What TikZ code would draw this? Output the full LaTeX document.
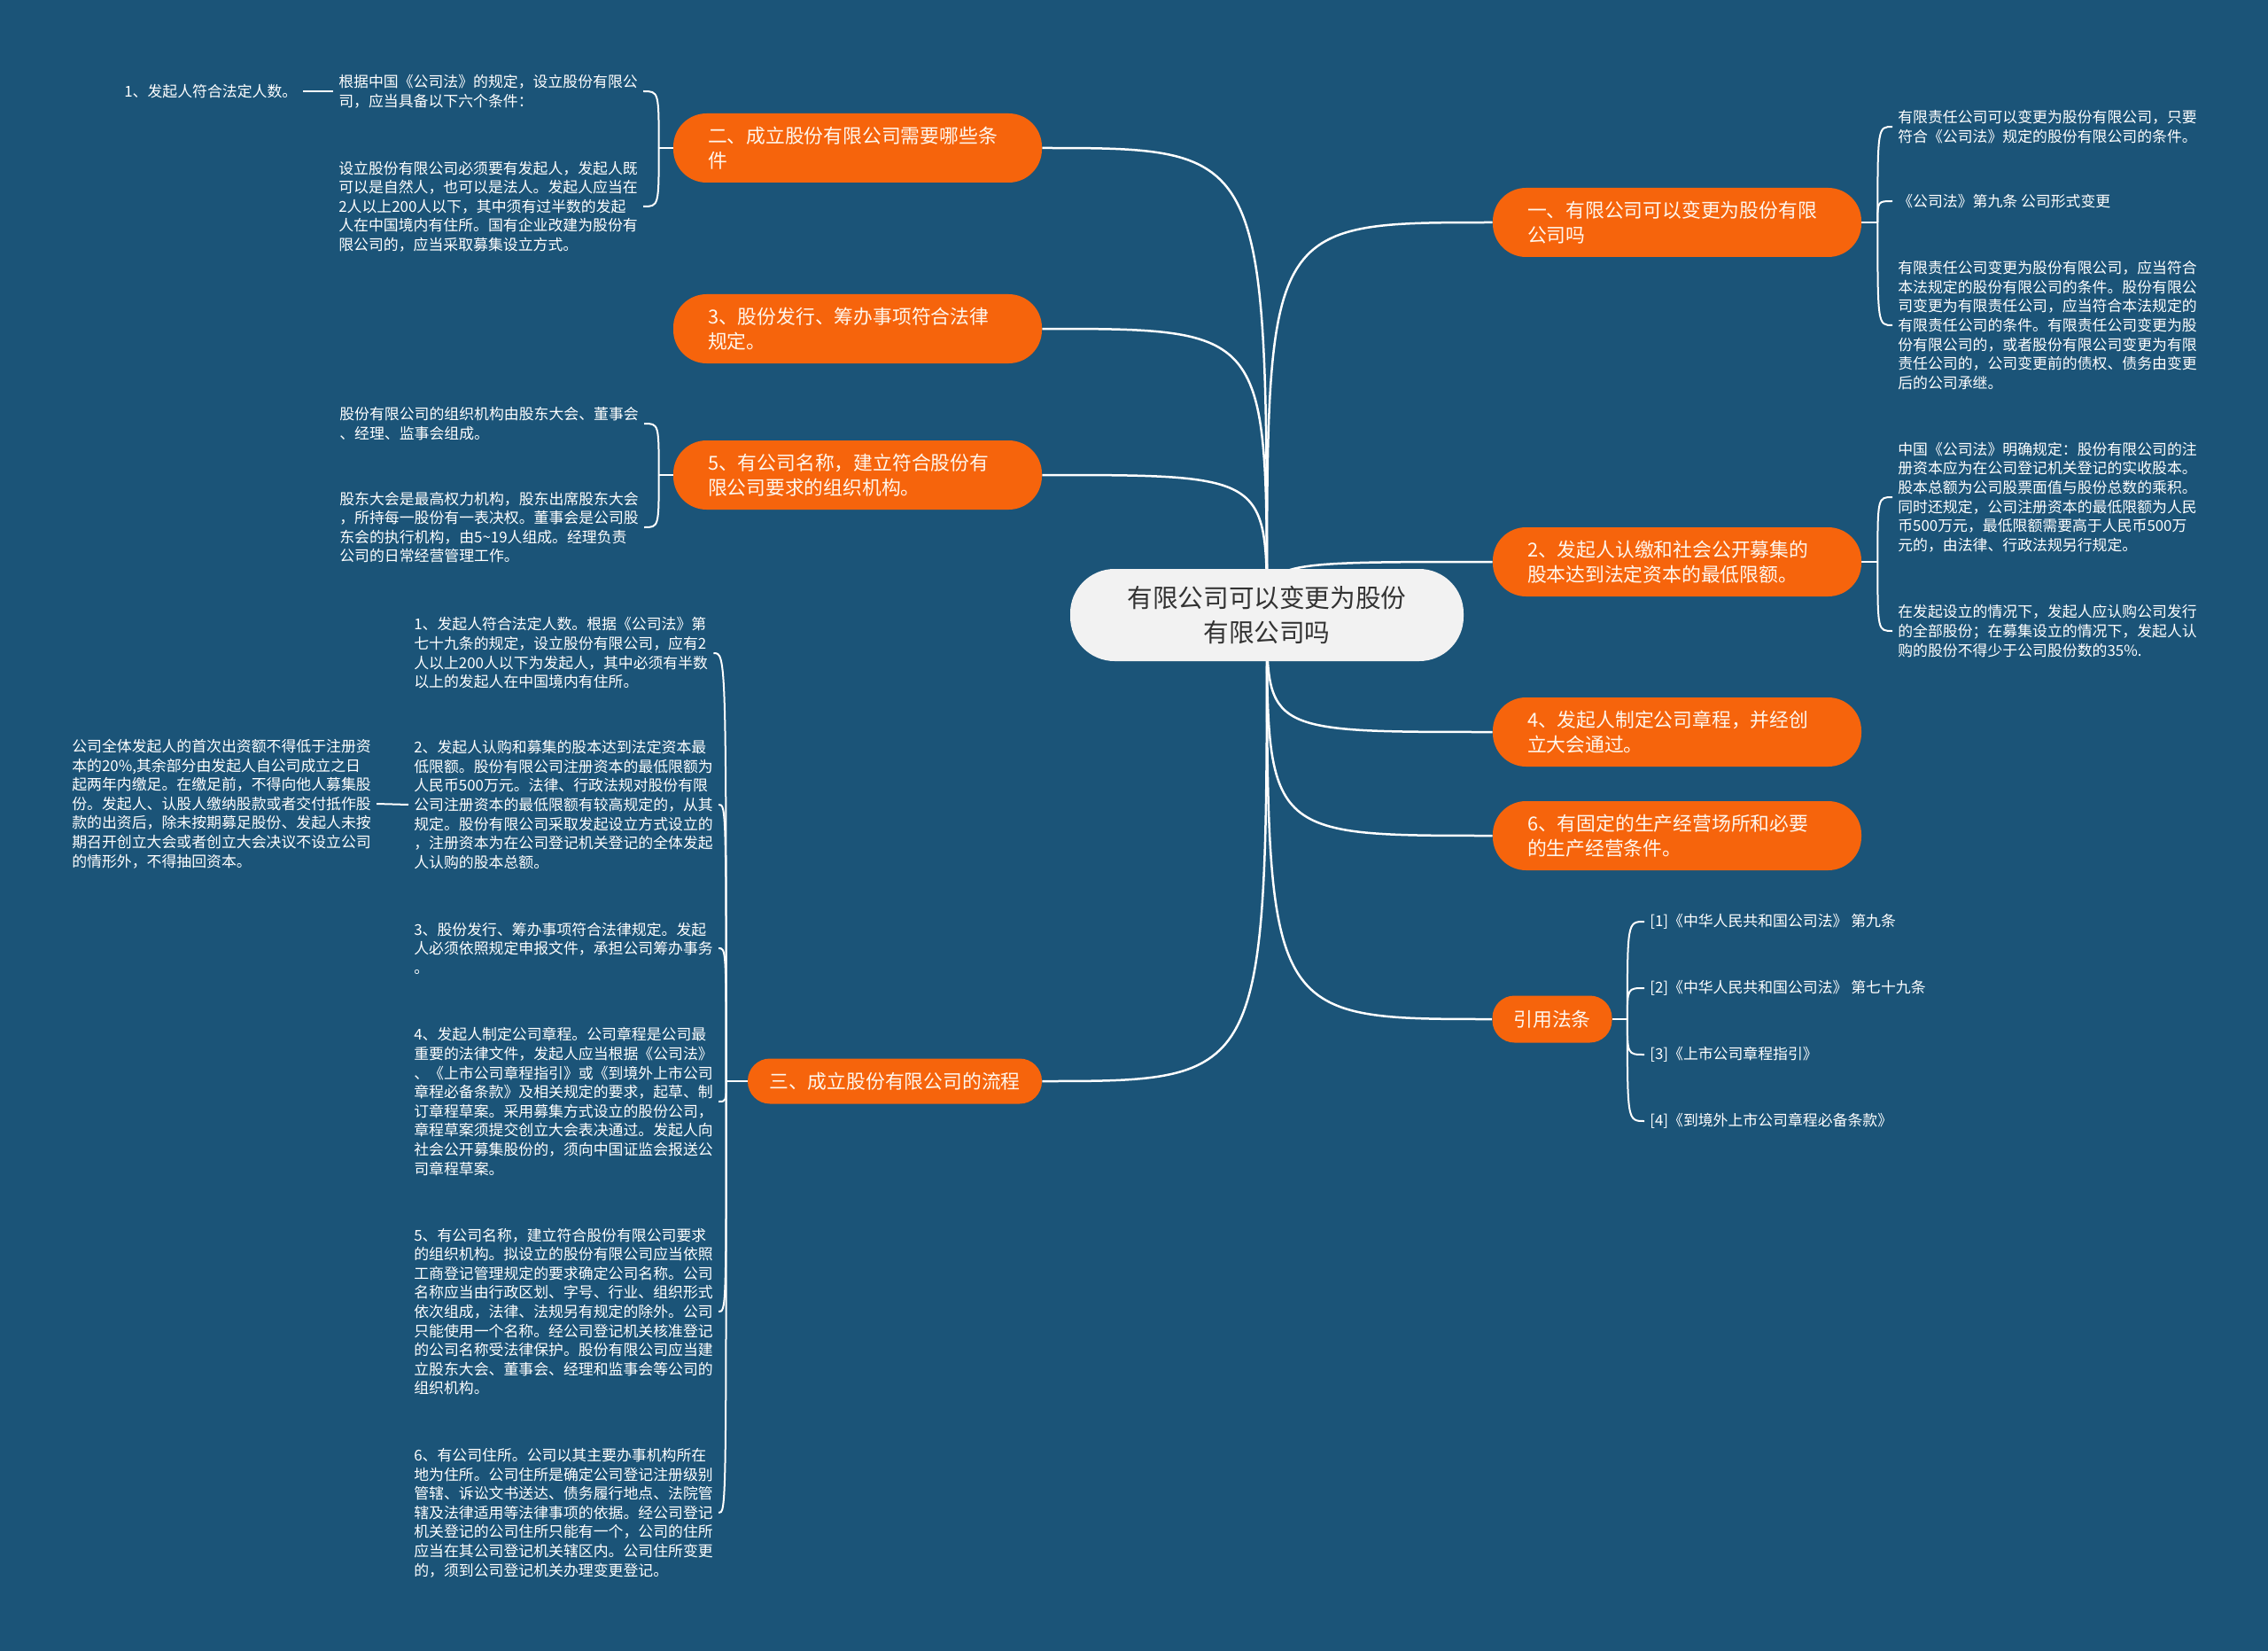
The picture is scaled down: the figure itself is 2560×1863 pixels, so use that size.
\documentclass[tikz,border=0pt]{standalone}
\usepackage{fontspec}
\setmainfont{Noto Sans CJK SC}
\usepackage{tikz}
\definecolor{bgblue}{HTML}{1B5478}
\definecolor{topicorange}{HTML}{F6640C}
\definecolor{topicink}{HTML}{FFF6EC}
\definecolor{rootfill}{HTML}{F2F2F2}
\definecolor{rootink}{HTML}{333333}
\pgfdeclarelayer{bg}
\pgfdeclarelayer{edges}
\pgfsetlayers{bg,edges,main}
\tikzset{
  root/.style={fill=rootfill,text=rootink,rounded corners=10mm,minimum width=88.8mm,minimum height=20.8mm,align=center,font=\fontsize{16.3pt}{22pt}\selectfont},
  topic/.style={fill=topicorange,text=topicink,rounded corners=7.5mm,text width=67.6mm,inner xsep=7.8mm,minimum height=15.6mm,align=left,font=\fontsize{12.4pt}{15.9pt}\selectfont},
  shorttopic/.style={fill=topicorange,text=topicink,rounded corners=5mm,inner xsep=0pt,align=center,font=\fontsize{12.4pt}{15.9pt}\selectfont},
  leaf/.style={text=white,anchor=west,align=left,inner xsep=1.2mm,inner ysep=0.4mm,font=\fontsize{9.6pt}{12.3pt}\selectfont},
  link/.style={draw=white,line width=0.5mm},
  brace/.style={draw=white,line width=0.4mm}
}

\begin{document}
\begin{tikzpicture}[x=0.2mm,y=-0.2mm]
  \begin{pgfonlayer}{bg}
    \fill[bgblue] (0,0) rectangle (2560,1863);
  \end{pgfonlayer}
  \useasboundingbox (0,0) rectangle (2560,1863);

  \node[root] (root) at (1430,694) {有限公司可以变更为股份\\有限公司吗};

  \node[topic] (r1) at (1893,251) {一、有限公司可以变更为股份有限\\公司吗};
  \node[topic] (r2) at (1893,634) {2、发起人认缴和社会公开募集的\\股本达到法定资本的最低限额。};
  \node[topic] (r3) at (1893,826) {4、发起人制定公司章程，并经创\\立大会通过。};
  \node[topic] (r4) at (1893,943) {6、有固定的生产经营场所和必要\\的生产经营条件。};
  \node[shorttopic,minimum width=27mm,minimum height=10.6mm] (r5) at (1752,1150) {引用法条};

  \node[topic] (l1) at (968,167) {二、成立股份有限公司需要哪些条\\件};
  \node[topic] (l2) at (968,371) {3、股份发行、筹办事项符合法律\\规定。};
  \node[topic] (l3) at (968,536) {5、有公司名称，建立符合股份有\\限公司要求的组织机构。};
  \node[shorttopic,minimum width=66.4mm,minimum height=10.2mm] (l4) at (1010,1220) {三、成立股份有限公司的流程};

  \node[leaf] (d1) at (2136,143) {有限责任公司可以变更为股份有限公司，只要\\符合《公司法》规定的股份有限公司的条件。};
  \node[leaf] (d2) at (2136,227) {《公司法》第九条 公司形式变更};
  \node[leaf] (d3) at (2136,367) {有限责任公司变更为股份有限公司，应当符合\\本法规定的股份有限公司的条件。股份有限公\\司变更为有限责任公司，应当符合本法规定的\\有限责任公司的条件。有限责任公司变更为股\\份有限公司的，或者股份有限公司变更为有限\\责任公司的，公司变更前的债权、债务由变更\\后的公司承继。};

  \node[leaf] (e1) at (2136,561) {中国《公司法》明确规定：股份有限公司的注\\册资本应为在公司登记机关登记的实收股本。\\股本总额为公司股票面值与股份总数的乘积。\\同时还规定，公司注册资本的最低限额为人民\\币500万元，最低限额需要高于人民币500万\\元的，由法律、行政法规另行规定。};
  \node[leaf] (e2) at (2136,712) {在发起设立的情况下，发起人应认购公司发行\\的全部股份；在募集设立的情况下，发起人认\\购的股份不得少于公司股份数的35\%.};

  \node[leaf] (f1) at (1856,1040) {[1]《中华人民共和国公司法》 第九条};
  \node[leaf] (f2) at (1856,1115) {[2]《中华人民共和国公司法》 第七十九条};
  \node[leaf] (f3) at (1856,1190) {[3]《上市公司章程指引》};
  \node[leaf] (f4) at (1856,1265) {[4]《到境外上市公司章程必备条款》};

  \node[leaf] (a1) at (376,103) {根据中国《公司法》的规定，设立股份有限公\\司，应当具备以下六个条件：};
  \node[leaf] (a1g) at (134,103) {1、发起人符合法定人数。};
  \node[leaf] (a2) at (376,233) {设立股份有限公司必须要有发起人，发起人既\\可以是自然人，也可以是法人。发起人应当在\\2人以上200人以下，其中须有过半数的发起\\人在中国境内有住所。国有企业改建为股份有\\限公司的，应当采取募集设立方式。};

  \node[leaf] (b1) at (377,478) {股份有限公司的组织机构由股东大会、董事会\\、经理、监事会组成。};
  \node[leaf] (b2) at (377,595) {股东大会是最高权力机构，股东出席股东大会\\，所持每一股份有一表决权。董事会是公司股\\东会的执行机构，由5\textasciitilde 19人组成。经理负责\\公司的日常经营管理工作。};

  \node[leaf] (c1) at (461,737) {1、发起人符合法定人数。根据《公司法》第\\七十九条的规定，设立股份有限公司，应有2\\人以上200人以下为发起人，其中必须有半数\\以上的发起人在中国境内有住所。};
  \node[leaf] (c2) at (461,908) {2、发起人认购和募集的股本达到法定资本最\\低限额。股份有限公司注册资本的最低限额为\\人民币500万元。法律、行政法规对股份有限\\公司注册资本的最低限额有较高规定的，从其\\规定。股份有限公司采取发起设立方式设立的\\，注册资本为在公司登记机关登记的全体发起\\人认购的股本总额。};
  \node[leaf] (c2g) at (75,907) {公司全体发起人的首次出资额不得低于注册资\\本的20\%,其余部分由发起人自公司成立之日\\起两年内缴足。在缴足前，不得向他人募集股\\份。发起人、认股人缴纳股款或者交付抵作股\\款的出资后，除未按期募足股份、发起人未按\\期召开创立大会或者创立大会决议不设立公司\\的情形外，不得抽回资本。};
  \node[leaf] (c3) at (461,1070) {3、股份发行、筹办事项符合法律规定。发起\\人必须依照规定申报文件，承担公司筹办事务\\。};
  \node[leaf] (c4) at (461,1243) {4、发起人制定公司章程。公司章程是公司最\\重要的法律文件，发起人应当根据《公司法》\\、《上市公司章程指引》或《到境外上市公司\\章程必备条款》及相关规定的要求，起草、制\\订章程草案。采用募集方式设立的股份公司，\\章程草案须提交创立大会表决通过。发起人向\\社会公开募集股份的，须向中国证监会报送公\\司章程草案。};
  \node[leaf] (c5) at (461,1480) {5、有公司名称，建立符合股份有限公司要求\\的组织机构。拟设立的股份有限公司应当依照\\工商登记管理规定的要求确定公司名称。公司\\名称应当由行政区划、字号、行业、组织形式\\依次组成，法律、法规另有规定的除外。公司\\只能使用一个名称。经公司登记机关核准登记\\的公司名称受法律保护。股份有限公司应当建\\立股东大会、董事会、经理和监事会等公司的\\组织机构。};
  \node[leaf] (c6) at (461,1707) {6、有公司住所。公司以其主要办事机构所在\\地为住所。公司住所是确定公司登记注册级别\\管辖、诉讼文书送达、债务履行地点、法院管\\辖及法律适用等法律事项的依据。经公司登记\\机关登记的公司住所只能有一个，公司的住所\\应当在其公司登记机关辖区内。公司住所变更\\的，须到公司登记机关办理变更登记。};

  \coordinate (r1j) at ([xshift=3.6mm]r1.east);
  \coordinate (r2j) at ([xshift=3.6mm]r2.east);
  \coordinate (r5j) at ([xshift=3.4mm]r5.east);
  \coordinate (l1j) at ([xshift=-3.2mm]l1.west);
  \coordinate (l3j) at ([xshift=-3.2mm]l3.west);
  \coordinate (l4j) at ([xshift=-4.8mm]l4.west);

  \begin{pgfonlayer}{edges}
    \foreach \t in {r1,r2,r3,r4,r5}
      \draw[link] (root.center) .. controls (root.center |- \t.west) .. (\t.west);
    \foreach \t in {l1,l2,l3,l4}
      \draw[link] (root.center) .. controls (root.center |- \t.east) .. (\t.east);

    \draw[brace] (r1.east) -- (r1j);
    \foreach \c in {d1,d2,d3}
      \draw[brace] (r1j) .. controls (r1j |- \c.west) .. (\c.west);
    \draw[brace] (r2.east) -- (r2j);
    \foreach \c in {e1,e2}
      \draw[brace] (r2j) .. controls (r2j |- \c.west) .. (\c.west);
    \draw[brace] (r5.east) -- (r5j);
    \foreach \c in {f1,f2,f3,f4}
      \draw[brace] (r5j) .. controls (r5j |- \c.west) .. (\c.west);

    \draw[brace] (l1.west) -- (l1j);
    \foreach \c in {a1,a2}
      \draw[brace] (l1j) .. controls (l1j |- \c.east) .. (\c.east);
    \draw[brace] (a1.west) -- (a1g.east);
    \draw[brace] (l3.west) -- (l3j);
    \foreach \c in {b1,b2}
      \draw[brace] (l3j) .. controls (l3j |- \c.east) .. (\c.east);
    \draw[brace] (l4.west) -- (l4j);
    \foreach \c in {c1,c2,c3,c4,c5,c6}
      \draw[brace] (l4j) .. controls (l4j |- \c.east) .. (\c.east);
    \draw[brace] (c2.west) -- (c2g.east);
  \end{pgfonlayer}
\end{tikzpicture}
\end{document}
